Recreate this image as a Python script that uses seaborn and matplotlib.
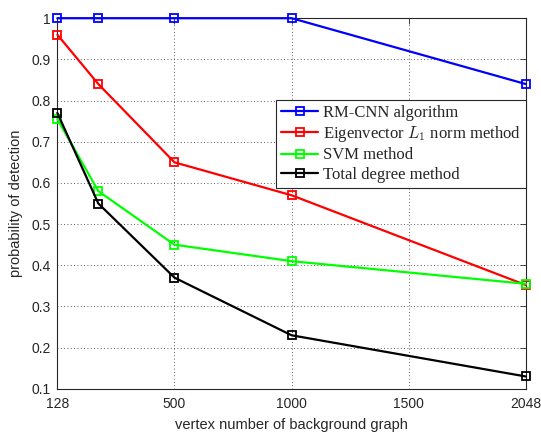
import pandas as pd
import matplotlib
matplotlib.use('Agg')
import matplotlib.pyplot as plt
import seaborn as sns
from matplotlib.ticker import FuncFormatter

# Data (x given as axis position, labels as printed)
x_pos = [0, 175, 500, 1000, 2000]
x_ticks = [0, 500, 1000, 1500, 2000]
x_tick_labels = ['128', '500', '1000', '1500', '2048']

rm_cnn = [1.0, 1.0, 1.0, 1.0, 0.84]
eigen_l1 = [0.96, 0.84, 0.65, 0.57, 0.352]
svm = [0.755, 0.58, 0.45, 0.41, 0.355]
total_degree = [0.77, 0.55, 0.37, 0.23, 0.13]

labels = ['RM-CNN algorithm', r'Eigenvector $L_1$ norm method',
          'SVM method', 'Total degree method']
colors = ['#0000ff', '#ff0000', '#00ff00', '#000000']

sns.set_style('white')
plt.rcParams['font.family'] = ['Liberation Sans', 'DejaVu Sans']
plt.rcParams['mathtext.fontset'] = 'cm'

fig = plt.figure(figsize=(5.41, 4.33), dpi=100)
ax = fig.add_axes([0.106, 0.102, 0.866, 0.856])

for vals, lab, col in zip([rm_cnn, eigen_l1, svm, total_degree], labels, colors):
    sns.lineplot(x=x_pos, y=vals, ax=ax, color=col, label=lab, marker='s',
                 markersize=6, markerfacecolor='none', markeredgecolor=col,
                 markeredgewidth=1.3, linewidth=1.6, clip_on=False, zorder=3)

ax.set_xlim(0, 2000)
ax.set_ylim(0.1, 1.0)
ax.set_xticks(x_ticks)
ax.set_xticklabels(x_tick_labels)
ax.set_yticks([0.1 * i for i in range(1, 11)])
ax.yaxis.set_major_formatter(FuncFormatter(lambda v, p: '%g' % round(v, 2)))
ax.tick_params(direction='in', top=True, right=True, length=4, width=0.6,
               labelsize=10, colors='#262626')
ax.tick_params(axis='x', pad=6)
ax.tick_params(axis='y', pad=5)
ax.grid(True, linestyle=(0, (1, 3)), color='#262626', linewidth=0.6)
for s in ax.spines.values():
    s.set_color('#262626')
    s.set_linewidth(0.8)

ax.set_xlabel('vertex number of background graph', fontsize=10.5,
              color='#262626', labelpad=5)
ax.set_ylabel('probability of detection', fontsize=10.5, color='#262626',
              labelpad=6)

leg = ax.legend(loc='upper right', bbox_to_anchor=(1.0, 0.78), fancybox=False,
                framealpha=1, edgecolor='#262626', handlelength=2.2,
                handletextpad=0.3, borderpad=0.3, labelspacing=0.2,
                borderaxespad=0,
                prop={'family': 'Liberation Serif', 'size': 12})
leg.get_frame().set_linewidth(0.8)
leg.set_zorder(5)

fig.savefig('out.png', dpi=100)
